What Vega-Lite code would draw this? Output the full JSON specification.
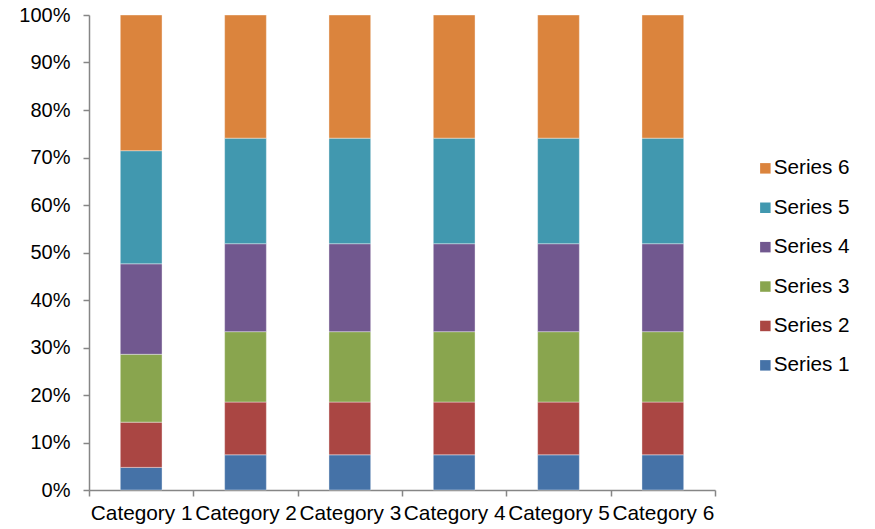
{
  "$schema": "https://vega.github.io/schema/vega-lite/v6.json",
  "width": 626,
  "height": 475,
  "autosize": "none",
  "padding": {"left": 89, "top": 15, "right": 160, "bottom": 39},
  "background": "#ffffff",
  "config": {
    "view": {"stroke": null},
    "font": "Liberation Sans",
    "axis": {
      "domainColor": "#868686",
      "tickColor": "#868686",
      "domainWidth": 1.5,
      "tickWidth": 1.5,
      "labelColor": "#000000",
      "labelFont": "Liberation Sans",
      "labelFontSize": 20,
      "grid": false,
      "title": null
    }
  },
  "data": {
    "values": [
      {"category": "Category 1", "series": "Series 1", "k": 1, "value": 1},
      {"category": "Category 1", "series": "Series 2", "k": 2, "value": 2},
      {"category": "Category 1", "series": "Series 3", "k": 3, "value": 3},
      {"category": "Category 1", "series": "Series 4", "k": 4, "value": 4},
      {"category": "Category 1", "series": "Series 5", "k": 5, "value": 5},
      {"category": "Category 1", "series": "Series 6", "k": 6, "value": 6},
      {"category": "Category 2", "series": "Series 1", "k": 1, "value": 2},
      {"category": "Category 2", "series": "Series 2", "k": 2, "value": 3},
      {"category": "Category 2", "series": "Series 3", "k": 3, "value": 4},
      {"category": "Category 2", "series": "Series 4", "k": 4, "value": 5},
      {"category": "Category 2", "series": "Series 5", "k": 5, "value": 6},
      {"category": "Category 2", "series": "Series 6", "k": 6, "value": 7},
      {"category": "Category 3", "series": "Series 1", "k": 1, "value": 2},
      {"category": "Category 3", "series": "Series 2", "k": 2, "value": 3},
      {"category": "Category 3", "series": "Series 3", "k": 3, "value": 4},
      {"category": "Category 3", "series": "Series 4", "k": 4, "value": 5},
      {"category": "Category 3", "series": "Series 5", "k": 5, "value": 6},
      {"category": "Category 3", "series": "Series 6", "k": 6, "value": 7},
      {"category": "Category 4", "series": "Series 1", "k": 1, "value": 2},
      {"category": "Category 4", "series": "Series 2", "k": 2, "value": 3},
      {"category": "Category 4", "series": "Series 3", "k": 3, "value": 4},
      {"category": "Category 4", "series": "Series 4", "k": 4, "value": 5},
      {"category": "Category 4", "series": "Series 5", "k": 5, "value": 6},
      {"category": "Category 4", "series": "Series 6", "k": 6, "value": 7},
      {"category": "Category 5", "series": "Series 1", "k": 1, "value": 2},
      {"category": "Category 5", "series": "Series 2", "k": 2, "value": 3},
      {"category": "Category 5", "series": "Series 3", "k": 3, "value": 4},
      {"category": "Category 5", "series": "Series 4", "k": 4, "value": 5},
      {"category": "Category 5", "series": "Series 5", "k": 5, "value": 6},
      {"category": "Category 5", "series": "Series 6", "k": 6, "value": 7},
      {"category": "Category 6", "series": "Series 1", "k": 1, "value": 2},
      {"category": "Category 6", "series": "Series 2", "k": 2, "value": 3},
      {"category": "Category 6", "series": "Series 3", "k": 3, "value": 4},
      {"category": "Category 6", "series": "Series 4", "k": 4, "value": 5},
      {"category": "Category 6", "series": "Series 5", "k": 5, "value": 6},
      {"category": "Category 6", "series": "Series 6", "k": 6, "value": 7}
    ]
  },
  "mark": {
    "type": "bar",
    "width": {"band": 0.4},
    "stroke": "#ffffff",
    "strokeOpacity": 0.5,
    "strokeWidth": 0.75
  },
  "encoding": {
    "x": {
      "field": "category",
      "type": "nominal",
      "scale": {"paddingInner": 0, "paddingOuter": 0},
      "axis": {
        "labelAngle": 0,
        "labelFontSize": 20.8,
        "tickBand": "extent",
        "tickSize": 6,
        "labelPadding": 7,
        "labelOverlap": false,
        "labelFlush": false
      }
    },
    "y": {
      "field": "value",
      "type": "quantitative",
      "stack": "normalize",
      "scale": {"domain": [0, 1], "nice": false},
      "axis": {
        "format": ".0%",
        "values": [0, 0.1, 0.2, 0.3, 0.4, 0.5, 0.6, 0.7, 0.8, 0.9, 1],
        "tickSize": 6,
        "labelPadding": 13
      }
    },
    "color": {
      "field": "series",
      "type": "nominal",
      "scale": {
        "domain": ["Series 6", "Series 5", "Series 4", "Series 3", "Series 2", "Series 1"],
        "range": ["#DB843D", "#4198AF", "#71588F", "#89A54E", "#AA4643", "#4572A7"]
      },
      "legend": {
        "title": null,
        "orient": "none",
        "legendX": 666,
        "legendY": 143,
        "symbolType": "square",
        "symbolSize": 110,
        "symbolStrokeWidth": 0,
        "labelFont": "Liberation Sans",
        "labelFontSize": 20.7,
        "labelColor": "#000000",
        "labelOffset": -2,
        "rowPadding": 17.4
      }
    },
    "order": {"field": "k", "type": "quantitative", "sort": "ascending"}
  }
}
